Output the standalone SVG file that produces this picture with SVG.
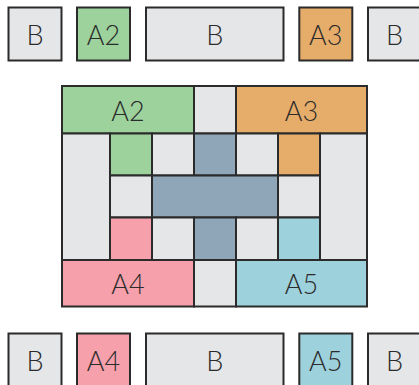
<svg xmlns="http://www.w3.org/2000/svg" width="419" height="385" viewBox="0 0 419 385">
<style>
rect{stroke:#2b2b2b;stroke-width:2}
.g{fill:#e5e6e8}.gr{fill:#9dd29c}.o{fill:#e6ad6a}.b{fill:#8fa6b8}.p{fill:#f5a0aa}.c{fill:#9dd1dc}
text{font-family:Lato,"Liberation Sans",sans-serif;font-weight:300;font-size:27px;fill:#2b2b2b;text-anchor:middle;dominant-baseline:central}
</style>
<g id="top-row">
<g id="t1"><rect class="g" x="8.5" y="7.5" width="53" height="53"/><text x="35" y="34">B</text></g>
<g id="t2"><rect class="gr" x="77" y="7.5" width="53" height="53"/><text x="103.5" y="34">A2</text></g>
<g id="t3"><rect class="g" x="146" y="7.5" width="137.5" height="53"/><text x="214.7" y="34">B</text></g>
<g id="t4"><rect class="o" x="299.3" y="7.5" width="53" height="53"/><text x="325.8" y="34">A3</text></g>
<g id="t5"><rect class="g" x="368" y="7.5" width="53" height="53"/><text x="394.5" y="34">B</text></g>
</g>
<g id="grid">
<g id="g-a2"><rect class="gr" x="62" y="86" width="132" height="47.5"/><text x="128" y="110">A2</text></g>
<rect id="g-top-mid" class="g" x="194" y="86" width="42" height="47.5"/>
<g id="g-a3"><rect class="o" x="236" y="86" width="131" height="47.5"/><text x="301.5" y="110">A3</text></g>
<rect id="g-left" class="g" x="62" y="133.5" width="48" height="126.5"/>
<rect id="g-right" class="g" x="320" y="133.5" width="47" height="126.5"/>
<rect class="gr" x="110" y="133.5" width="42" height="42"/>
<rect class="g" x="152" y="133.5" width="42" height="42"/>
<rect class="b" x="194" y="133.5" width="42" height="42"/>
<rect class="g" x="236" y="133.5" width="42" height="42"/>
<rect class="o" x="278" y="133.5" width="42" height="42"/>
<rect class="g" x="110" y="175.5" width="42" height="42"/>
<rect class="b" x="152" y="175.5" width="126" height="42"/>
<rect class="g" x="278" y="175.5" width="42" height="42"/>
<rect class="p" x="110" y="217.5" width="42" height="42.5"/>
<rect class="g" x="152" y="217.5" width="42" height="42.5"/>
<rect class="b" x="194" y="217.5" width="42" height="42.5"/>
<rect class="g" x="236" y="217.5" width="42" height="42.5"/>
<rect class="c" x="278" y="217.5" width="42" height="42.5"/>
<g id="g-a4"><rect class="p" x="62" y="260" width="132" height="46.5"/><text x="128" y="283">A4</text></g>
<rect id="g-bot-mid" class="g" x="194" y="260" width="42" height="46.5"/>
<g id="g-a5"><rect class="c" x="236" y="260" width="131" height="46.5"/><text x="301.5" y="283">A5</text></g>
</g>
<g id="bottom-row">
<g id="b1"><rect class="g" x="8.5" y="333.5" width="53" height="53"/><text x="35" y="360">B</text></g>
<g id="b2"><rect class="p" x="77" y="333.5" width="53" height="53"/><text x="103.5" y="360">A4</text></g>
<g id="b3"><rect class="g" x="146" y="333.5" width="137.5" height="53"/><text x="214.7" y="360">B</text></g>
<g id="b4"><rect class="c" x="299.3" y="333.5" width="53" height="53"/><text x="325.8" y="360">A5</text></g>
<g id="b5"><rect class="g" x="368" y="333.5" width="53" height="53"/><text x="394.5" y="360">B</text></g>
</g>
<g id="connectors"/>
</svg>
